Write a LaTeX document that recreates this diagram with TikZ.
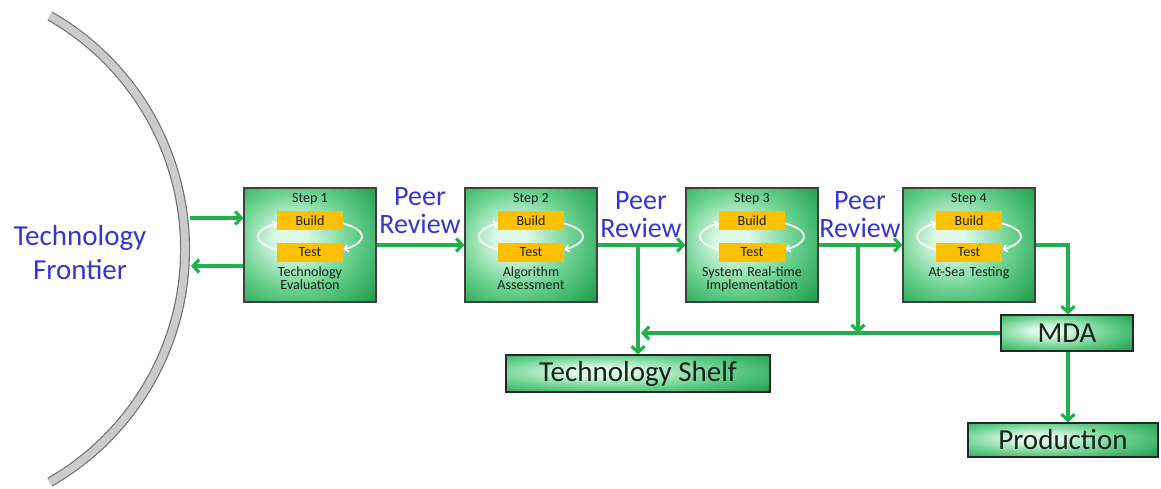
\documentclass[tikz,border=0pt]{standalone}
\usepackage{fontspec}
\setmainfont{Carlito}
\usetikzlibrary{arrows.meta,calc}
\definecolor{agreen}{HTML}{21B04E}
\definecolor{pblue}{HTML}{3535D6}
\definecolor{bdark}{HTML}{1E9E4C}
\definecolor{bdarker}{HTML}{137F3A}
\definecolor{blight}{HTML}{DDF9E6}
\definecolor{bmid}{HTML}{68D08E}
\definecolor{borange}{HTML}{FFC000}
\definecolor{txtdark}{HTML}{17231B}
\pgfdeclareradialshading{gshade}{\pgfpoint{-8bp}{3bp}}{color(0bp)=(blight); color(6bp)=(blight); color(22bp)=(bmid); color(38bp)=(bdark); color(75bp)=(bdarker)}
\newcommand\mkstep[4]{%
  \node[sbox] (#1) at (#2,245) {};
  \draw[cyc] ({#2-33.4},249.5) arc[start angle=230, end angle=129, x radius=52pt, y radius=17pt];
  \draw[cyc] ({#2+32.7},223.3) arc[start angle=51, end angle=-50, x radius=52pt, y radius=17pt];
  \node[orect] (#1b) at (#2,220.5) {Build};
  \node[orect] (#1t) at (#2,252.5) {Test};
  \node[steptxt] (#1h) at (#2,199) {Step #3};
  \node[steplbl] (#1l) at (#2,267) {#4};
}
\begin{document}
\begin{tikzpicture}[x=1pt,y=-1pt,
  sbox/.style={draw=black!75, line width=1.2pt, shading=gshade, minimum width=132pt, minimum height=114pt, inner sep=0pt},
  bar/.style={draw=black!85, line width=1.2pt, shading=gshade, inner sep=0pt, font=\fontsize{29}{30}\selectfont, text=txtdark},
  orect/.style={fill=borange, minimum width=66pt, minimum height=19pt, inner sep=0pt, font=\fontsize{14}{14}\selectfont, text=txtdark},
  steptxt/.style={font=\fontsize{14}{14}\selectfont, text=txtdark, inner sep=0pt},
  steplbl/.style={font=\fontsize{14}{12.5}\selectfont, text=txtdark, align=center, text width=128pt, inner sep=0pt, anchor=north},
  flow/.style={draw=agreen, line width=3.2pt, -{Straight Barb[length=6pt,width=13pt]}},
  cyc/.style={draw=white, line width=1.7pt, -{Straight Barb[length=3.5pt,width=7pt]}},
  pr/.style={text=pblue, font=\fontsize{28}{28}\selectfont, align=center, inner sep=0pt},
  fr/.style={text=pblue, font=\fontsize{29}{34}\selectfont, align=center, inner sep=0pt}
]
\useasboundingbox (0,0) rectangle (1161,489);
% frontier arc
\draw[line width=10pt, color=gray!90!black] (49.9,16) arc[start angle=60.2, end angle=-60.2, radius=268.6pt];
\draw[line width=7.6pt, color=gray!40] (49.9,16) arc[start angle=60.2, end angle=-60.2, radius=268.6pt];
\node[fr] (front) at (80,253) {Technology\\Frontier};

% steps
\mkstep{s1}{310}{1}{Technology\\Evaluation}
\mkstep{s2}{531}{2}{Algorithm\\Assessment}
\mkstep{s3}{752}{3}{System Real-time\\Implementation}
\mkstep{s4}{969}{4}{At-Sea Testing}

% peer review labels
\node[pr] (pr1) at (420,211) {Peer\\Review};
\node[pr] (pr2) at (641,215) {Peer\\Review};
\node[pr] (pr3) at (860,215) {Peer\\Review};

% bars
\node[bar, minimum width=264pt, minimum height=37pt] (shelf) at (638,373.5) {Technology Shelf};
\node[bar, minimum width=132pt, minimum height=36pt] (mda) at (1067,333) {MDA};
\node[bar, minimum width=190pt, minimum height=34pt] (prod) at (1063,440) {Production};

% connectors
\coordinate (f1) at (190,218);
\coordinate (f2) at (191,266);
\draw[flow] (f1) -- (f1 -| s1.west);
\draw[flow] (f2 -| s1.west) -- (f2);
\draw[flow] (s1.east) -- (s2.west);
\draw[flow] (s2.east) -- (s3.west);
\draw[flow] (s3.east) -- (s4.west);
\coordinate (j2) at (638,245);
\draw[flow] (j2) -- (j2 |- shelf.north);
\coordinate (h2) at (641,333);
\draw[flow] (mda.west) -- (h2);
\coordinate (j3) at (858,245);
\coordinate (h3) at (858,333);
\draw[flow] (j3) -- (h3);
\coordinate (c4) at (1068,245);
\draw[flow] (s4.east) -- (c4) -- (c4 |- mda.north);
\draw[flow] (mda.south -| c4) -- (c4 |- prod.north);
\end{tikzpicture}
\end{document}
